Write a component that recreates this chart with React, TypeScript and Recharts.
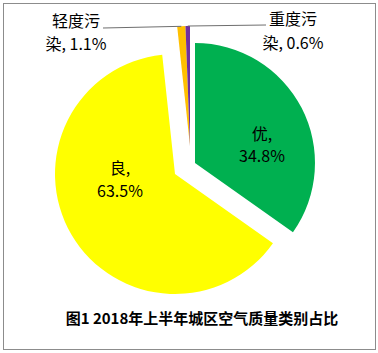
import React from "react";
import { PieChart, Pie, Cell } from "recharts";

const categories = ["优", "良", "轻度污染", "重度污染"];
const shares = [34.8, 63.5, 1.1, 0.6];
const colors = ["#00B050", "#FFFF00", "#FFC000", "#7030A0"];

const data = categories.map((name, i) => ({ name, value: shares[i] }));

// exploded pies: each slice gets its own center
const sliceCenters = [
	[195, 163],
	[175, 174],
	[190, 146],
	[190, 146],
];

// label placement (text only)
const insideLabels: Record<number, { x: number; y1: number; y2: number }> = {
	0: { x: 262, y1: 133, y2: 155 },
	1: { x: 120, y1: 167, y2: 190 },
};
const outsideLabels: Record<number, { x: number; y1: number; y2: number; lineX: number; lineY: number }> = {
	2: { x: 76, y1: 20, y2: 43, lineX: 103, lineY: 28 },
	3: { x: 293, y1: 18, y2: 42, lineX: 266, lineY: 25 },
};

const RADIAN = Math.PI / 180;
const font = "'Noto Sans CJK SC', 'Noto Sans', sans-serif";

function makeLabel(target: number) {
	return (props: any) => {
		const { index, cx, cy, midAngle, outerRadius, name, value } = props;
		if (index !== target) return null;
		const pct = `${Number(value).toFixed(1)}%`;
		if (insideLabels[index]) {
			const p = insideLabels[index];
			return (
				<g fontFamily={font} fontSize={16} fill="#000">
					<text x={p.x} y={p.y1} textAnchor="middle" dominantBaseline="central">
						{name},
					</text>
					<text x={p.x} y={p.y2} textAnchor="middle" dominantBaseline="central">
						{pct}
					</text>
				</g>
			);
		}
		const p = outsideLabels[index];
		const ex = cx + outerRadius * Math.cos(-midAngle * RADIAN);
		const ey = cy + outerRadius * Math.sin(-midAngle * RADIAN);
		return (
			<g fontFamily={font} fontSize={16} fill="#000">
				<line x1={p.lineX} y1={p.lineY} x2={ex} y2={ey} stroke="#6e6e6e" strokeWidth={1} />
				<text x={p.x} y={p.y1} textAnchor="middle" dominantBaseline="central">
					{name.slice(0, 3)}
				</text>
				<text x={p.x} y={p.y2} textAnchor="middle" dominantBaseline="central">
					{name.slice(3)}, {pct}
				</text>
			</g>
		);
	};
}

export default function App() {
	return (
		<div
			style={{
				position: "fixed",
				left: 0,
				top: 0,
				width: 378,
				height: 353,
				background: "#fff",
			}}
		>
			<div
				style={{
					position: "absolute",
					left: 3,
					top: 3,
					width: 373,
					height: 347,
					border: "1px solid #8c8c8c",
					boxSizing: "border-box",
				}}
			/>
			<div style={{ position: "absolute", left: 0, top: 0 }}>
				<PieChart width={378} height={353} margin={{ top: 0, right: 0, bottom: 0, left: 0 }}>
					{sliceCenters.map(([cx, cy], s) => (
						<Pie
							key={s}
							data={data}
							dataKey="value"
							nameKey="name"
							cx={cx}
							cy={cy}
							outerRadius={120}
							startAngle={90}
							endAngle={-270}
							stroke="none"
							label={makeLabel(s)}
							labelLine={false}
							isAnimationActive={false}
						>
							{data.map((_, i) => (
								<Cell key={i} fill={i === s ? colors[i] : "none"} />
							))}
						</Pie>
					))}
					<text
						x={202}
						y={317}
						textAnchor="middle"
						dominantBaseline="central"
						fontFamily={font}
						fontWeight="bold"
						fontSize={15}
						fill="#000"
					>
						图1 2018年上半年城区空气质量类别占比
					</text>
				</PieChart>
			</div>
		</div>
	);
}
